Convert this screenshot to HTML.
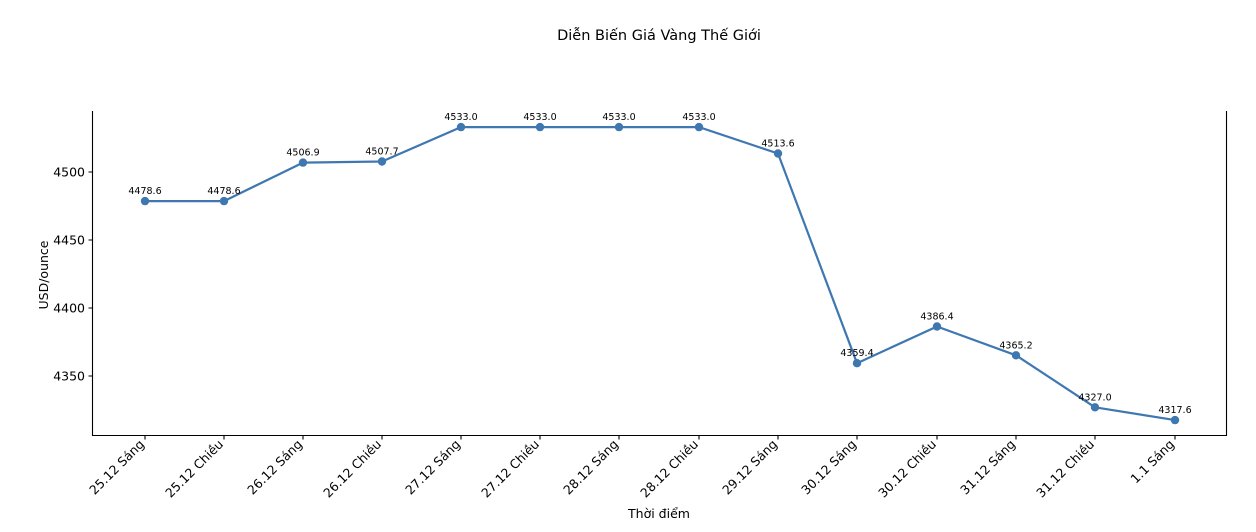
<!DOCTYPE html>
<html><head><meta charset="utf-8"><style>
html,body{margin:0;padding:0;background:#fff;}
svg{display:block;font-family:"DejaVu Sans","Liberation Sans",sans-serif;}
</style></head><body>
<svg width="1256" height="532" viewBox="0 0 1256 532" xmlns="http://www.w3.org/2000/svg">
<text x="659" y="40" font-size="14.5" text-anchor="middle" fill="#000">Diễn Biến Giá Vàng Thế Giới</text>
<g stroke="#000" stroke-width="1.1" fill="none">
<path d="M92.5,111 V435.5 H1226.5 V111"/>
<path d="M92.5,172 h-4 M92.5,240 h-4 M92.5,308 h-4 M92.5,376 h-4"/>
<path d="M145,435.5v4 M224,435.5v4 M303,435.5v4 M382,435.5v4 M461,435.5v4 M540,435.5v4 M619,435.5v4 M699,435.5v4 M778,435.5v4 M857,435.5v4 M937,435.5v4 M1016,435.5v4 M1095,435.5v4 M1175,435.5v4"/>
</g>
<g font-size="12.5" text-anchor="end" fill="#000">
<text x="85" y="176.5">4500</text>
<text x="85" y="244.5">4450</text>
<text x="85" y="312.5">4400</text>
<text x="85" y="380.5">4350</text>
</g>
<text transform="translate(48,275) rotate(-90)" font-size="12.5" text-anchor="middle">USD/ounce</text>
<text x="659" y="518" font-size="12.5" text-anchor="middle">Thời điểm</text>
<g font-size="12.5" text-anchor="end">
<text transform="translate(145,445) rotate(-45)">25.12 Sáng</text>
<text transform="translate(224,445) rotate(-45)">25.12 Chiều</text>
<text transform="translate(303,445) rotate(-45)">26.12 Sáng</text>
<text transform="translate(382,445) rotate(-45)">26.12 Chiều</text>
<text transform="translate(461,445) rotate(-45)">27.12 Sáng</text>
<text transform="translate(540,445) rotate(-45)">27.12 Chiều</text>
<text transform="translate(619,445) rotate(-45)">28.12 Sáng</text>
<text transform="translate(699,445) rotate(-45)">28.12 Chiều</text>
<text transform="translate(778,445) rotate(-45)">29.12 Sáng</text>
<text transform="translate(857,445) rotate(-45)">30.12 Sáng</text>
<text transform="translate(937,445) rotate(-45)">30.12 Chiều</text>
<text transform="translate(1016,445) rotate(-45)">31.12 Sáng</text>
<text transform="translate(1095,445) rotate(-45)">31.12 Chiều</text>
<text transform="translate(1175,445) rotate(-45)">1.1 Sáng</text>
</g>
<polyline fill="none" stroke="#3f77b0" stroke-width="2.2" stroke-linejoin="round" points="145,201.1 224,201.1 303,162.6 382,161.5 461,127.1 540,127.1 619,127.1 699,127.1 778,153.5 857,363.2 937,326.5 1016,355.3 1095,407.3 1175,420.1"/>
<g fill="#3f77b0">
<circle cx="145" cy="201.1" r="4.2"/><circle cx="224" cy="201.1" r="4.2"/><circle cx="303" cy="162.6" r="4.2"/><circle cx="382" cy="161.5" r="4.2"/><circle cx="461" cy="127.1" r="4.2"/><circle cx="540" cy="127.1" r="4.2"/><circle cx="619" cy="127.1" r="4.2"/><circle cx="699" cy="127.1" r="4.2"/><circle cx="778" cy="153.5" r="4.2"/><circle cx="857" cy="363.2" r="4.2"/><circle cx="937" cy="326.5" r="4.2"/><circle cx="1016" cy="355.3" r="4.2"/><circle cx="1095" cy="407.3" r="4.2"/><circle cx="1175" cy="420.1" r="4.2"/>
</g>
<g font-size="9.5" text-anchor="middle" fill="#000">
<text x="145" y="194">4478.6</text><text x="224" y="194">4478.6</text><text x="303" y="155.5">4506.9</text><text x="382" y="154.5">4507.7</text>
<text x="461" y="120">4533.0</text><text x="540" y="120">4533.0</text><text x="619" y="120">4533.0</text><text x="699" y="120">4533.0</text>
<text x="778" y="146.5">4513.6</text><text x="857" y="356">4359.4</text><text x="937" y="319.5">4386.4</text><text x="1016" y="348.5">4365.2</text>
<text x="1095" y="400.5">4327.0</text><text x="1175" y="413">4317.6</text>
</g>
</svg>
</body></html>
